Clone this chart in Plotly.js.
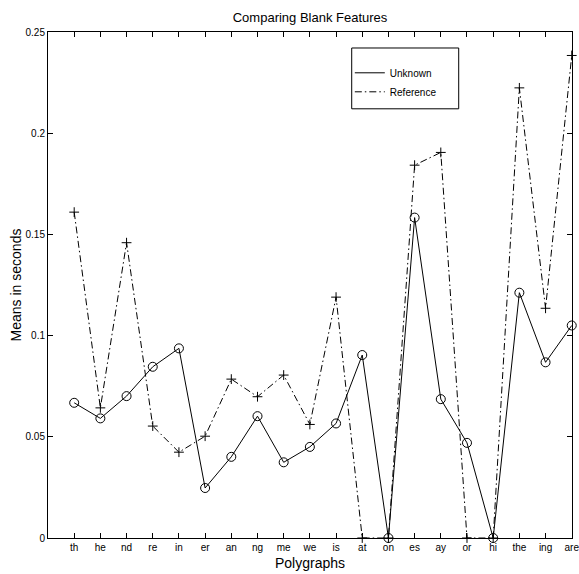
<!DOCTYPE html>
<html>
<head>
<meta charset="utf-8">
<script src="https://cdn.plot.ly/plotly-3.0.1.min.js"></script>
<style>html,body{margin:0;padding:0;background:#fff;}#chart{width:579px;height:574px;}</style>
</head>
<body>
<div id="chart"></div>
<script>
const categories = ["th","he","nd","re","in","er","an","ng","me","we","is","at","on","es","ay","or","hi","the","ing","are"];
const unknownMeans = [0.0668,0.0591,0.0701,0.0846,0.0937,0.0247,0.0401,0.0602,0.0374,0.0450,0.0566,0.0904,0,0.1583,0.0686,0.0470,0,0.1212,0.0868,0.1050];
const referenceMeans = [0.1610,0.0643,0.1459,0.0553,0.0424,0.0503,0.0785,0.0698,0.0805,0.0561,0.1190,0,0,0.1842,0.1905,0,0,0.2224,0.1135,0.2384];
const yTickValues = [0,0.05,0.1,0.15,0.2,0.25];
const yTickLabels = ["0","0.05","0.1","0.15","0.2","0.25"];

const xPos = categories.map((c, i) => i + 1);
const FONT = "Liberation Sans, Arial, Helvetica, sans-serif";

const traces = [
  {x: xPos, y: unknownMeans, mode: "lines", name: "Unknown",
   line: {color: "#000", width: 1}, showlegend: true, hoverinfo: "skip"},
  {x: xPos, y: referenceMeans, mode: "lines", name: "Reference",
   line: {color: "#000", width: 1, dash: "7px,3px,1.5px,3px"}, showlegend: true, hoverinfo: "skip"},
  {x: xPos, y: unknownMeans, mode: "markers", name: "Unknown markers", showlegend: false,
   marker: {symbol: "circle-open", size: 9, color: "#000", line: {width: 1, color: "#000"}}, cliponaxis: false},
  {x: xPos, y: referenceMeans, mode: "markers", name: "Reference markers", showlegend: false,
   marker: {symbol: "cross-thin-open", size: 7, color: "#000", line: {width: 1, color: "#000"}}, cliponaxis: false}
];

const layout = {
  width: 579, height: 574,
  margin: {l: 48, r: 7, t: 32, b: 36, pad: 0},
  paper_bgcolor: "#fff", plot_bgcolor: "#fff",
  font: {family: FONT, color: "#000", size: 10},
  title: {text: "Comparing Blank Features", font: {family: FONT, size: 13, color: "#000"},
          x: 0.5355, xanchor: "center", y: 0.97, yanchor: "middle"},
  xaxis: {
    range: [0, 20.01], tickmode: "array", tickvals: xPos, ticktext: categories,
    ticks: "inside", ticklen: 5, tickwidth: 1, tickcolor: "#000",
    showline: true, linecolor: "#000", linewidth: 1, mirror: "ticks",
    showgrid: false, zeroline: false, tickfont: {size: 10, family: FONT},
    ticklabeloverflow: "allow",
    title: {text: "Polygraphs", font: {size: 14, family: FONT}, standoff: 6}
  },
  yaxis: {
    range: [0, 0.25], tickmode: "array", tickvals: yTickValues, ticktext: yTickLabels,
    ticks: "inside", ticklen: 5, tickwidth: 1, tickcolor: "#000",
    showline: true, linecolor: "#000", linewidth: 1, mirror: "ticks",
    showgrid: false, zeroline: false, tickfont: {size: 10, family: FONT},
    title: {text: "Means in seconds", font: {size: 14, family: FONT}, standoff: 0}
  },
  legend: {x: 0.576, y: 0.948, xanchor: "left", yanchor: "top",
           bgcolor: "rgba(0,0,0,0)", borderwidth: 0, font: {size: 10, family: FONT},
           tracegroupgap: 0},
  shapes: [{type: "rect", xref: "paper", yref: "paper", x0: 0.5796, x1: 0.7838, y0: 0.8482, y1: 0.9684,
            line: {color: "#000", width: 1}, fillcolor: "rgba(0,0,0,0)"}],
  showlegend: true
};

Plotly.newPlot("chart", traces, layout, {staticPlot: true, displayModeBar: false});
</script>
</body>
</html>
